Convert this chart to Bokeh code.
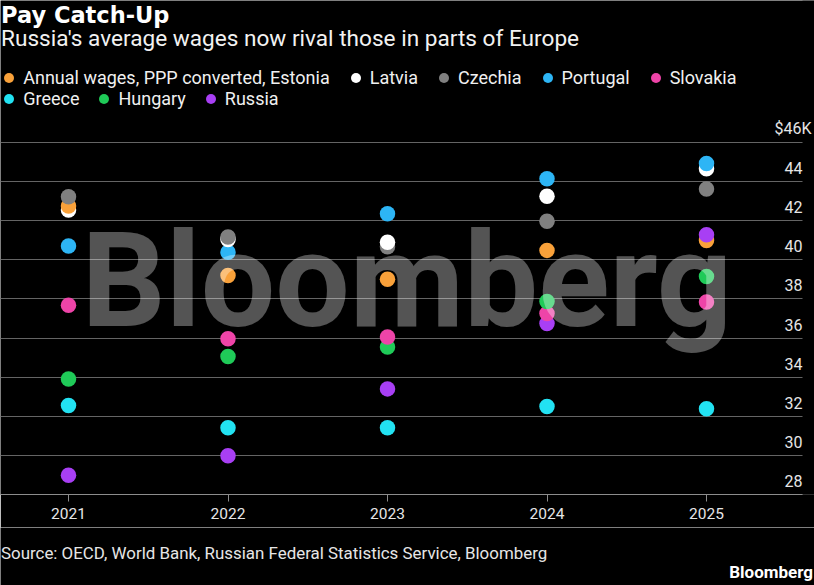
from bokeh.plotting import figure
from bokeh.layouts import column
from bokeh.models import (ColumnDataSource, FixedTicker, Legend, LegendItem, Label, Range1d,
                          BoxAnnotation)
from bokeh.embed import file_html
from bokeh.resources import INLINE
from bokeh.core.properties import value

# ---------------- data ----------------
years = [2021, 2022, 2023, 2024, 2025]
countries = ["Estonia", "Latvia", "Czechia", "Portugal", "Slovakia", "Greece", "Hungary", "Russia"]
legend_labels = ["Annual wages, PPP converted, Estonia", "Latvia", "Czechia", "Portugal",
                 "Slovakia", "Greece", "Hungary", "Russia"]
estonia = [42.75, 39.2, 39.0, 40.48, 40.99]
latvia = [42.55, 41.04, 40.9, 43.25, 44.65]
czechia = [43.22, 41.16, 40.66, 41.97, 43.62]
portugal = [40.7, 40.39, 42.35, 44.14, 44.92]
slovakia = [37.68, 35.96, 36.05, 37.25, 37.84]
greece = [32.55, 31.41, 31.41, 32.5, 32.38]
hungary = [33.9, 35.05, 35.54, 37.87, 39.15]
russia = [28.98, 29.98, 33.4, 36.74, 41.28]
series = [estonia, latvia, czechia, portugal, slovakia, greece, hungary, russia]
colors = ["#f9a13a", "#ffffff", "#808080", "#2db5f5", "#ee44a8", "#22e2f2", "#1fca58", "#a83ff4"]

y_ticks = [28, 30, 32, 34, 36, 38, 40, 42, 44]
y_tick_labels = ["28", "30", "32", "34", "36", "38", "40", "42", "44"]
top_tick = [46]
top_tick_label = ["$46K"]

title_text = "Pay Catch-Up"
subtitle_text = "Russia's average wages now rival those in parts of Europe"
source_text = "Source: OECD, World Bank, Russian Federal Statistics Service, Bloomberg"
brand_text = "Bloomberg"

# ---------------- long-form table, drawn low values first ----------------
rows = []
for name, vals, col in zip(countries, series, colors):
    for yr, v in zip(years, vals):
        rows.append((v, yr, name, col))
rows.sort(key=lambda r: r[0])
src = ColumnDataSource(dict(
    value=[r[0] for r in rows],
    year=[r[1] for r in rows],
    country=[r[2] for r in rows],
    color=[r[3] for r in rows],
))

# ---------------- layout geometry (pixels) ----------------
W = 814
FRAME_H = 494          # frame from the top of the page down to the x axis
AXIS_H = 33            # room for the x axis below the frame
MAIN_H = FRAME_H + AXIS_H
FOOT_H = 585 - MAIN_H
GRID_RIGHT = 802       # grid lines and axis line stop here
PX_PER_YEAR = 159.5
PX_PER_UNIT = 19.56
x_start = 2021 - 68 / PX_PER_YEAR
x_end = x_start + W / PX_PER_YEAR
y_start = 28
y_end = y_start + FRAME_H / PX_PER_UNIT

def dx(px):             # page x pixel -> data x
    return x_start + px / PX_PER_YEAR

def dy(py):             # page y pixel -> data y
    return y_end - py / PX_PER_UNIT

x_grid_end = dx(GRID_RIGHT)

p = figure(width=W, height=MAIN_H, output_backend="svg", toolbar_location=None, title=None,
           x_range=Range1d(x_start, x_end), y_range=Range1d(y_start, y_end),
           y_axis_location=None, min_border_left=0, min_border_right=0,
           min_border_top=0, min_border_bottom=AXIS_H)
p.frame_align = False
p.background_fill_color = "#000000"
p.border_fill_color = "#000000"
p.outline_line_color = None

p.xgrid.visible = False
p.ygrid.ticker = FixedTicker(ticks=y_ticks + top_tick)
p.ygrid.grid_line_color = "#646464"
p.ygrid.grid_line_width = 1
# hide the grid lines to the right of the label column
p.add_layout(BoxAnnotation(left=x_grid_end, fill_color="#000000", fill_alpha=1,
                           line_color=None, level="underlay"))

ax = p.xaxis[0]
ax.ticker = FixedTicker(ticks=years)
ax.bounds = (x_start, x_grid_end)
ax.minor_tick_line_color = None
ax.major_tick_in = 0
ax.major_tick_out = 7
ax.axis_line_color = "#8c8c8c"
ax.major_tick_line_color = "#8c8c8c"
ax.major_label_text_font = "Roboto"
ax.major_label_text_font_size = "15.5px"
ax.major_label_text_color = "#e6e6e6"
ax.major_label_standoff = 6

# value labels sitting above the grid lines, right-aligned at the grid end
lab_style = dict(text_align="right", text_baseline="middle", y_offset=-13.5,
                 text_font=value("Roboto"), text_font_size="16px", text_color="#e6e6e6")
p.text(x=[x_grid_end] * len(y_ticks), y=y_ticks, text=y_tick_labels, **lab_style)
p.text(x=[x_grid_end] * len(top_tick), y=top_tick, text=top_tick_label, x_offset=9,
       **lab_style)

# dots
r = p.scatter(x="year", y="value", source=src, size=15.5, fill_color="color",
              line_color=None)

# legend (two rows)
first_idx = {}
for i, c in enumerate(src.data["country"]):
    first_idx.setdefault(c, i)
items = [LegendItem(label=lab, renderers=[r], index=first_idx[c])
         for lab, c in zip(legend_labels, countries)]

def make_legend(its, loc, spacing):
    lg = Legend(items=its, location=loc, orientation="horizontal", padding=0, margin=0,
                spacing=spacing, glyph_width=25, glyph_height=25, label_standoff=2,
                label_height=20, label_text_font="Roboto", label_text_font_size="18px",
                label_text_color="#f0f0f0", background_fill_alpha=0, border_line_alpha=0)
    p.add_layout(lg)

make_legend(items[:5], (-3.8, FRAME_H - 90.2), 13)
make_legend(items[5:], (-3.8, FRAME_H - 110.8), 12)

# header texts (inside the frame, above the data)
p.add_layout(Label(x=dx(0.5), y=dy(14.5), text=title_text, text_font="DejaVu Sans",
                   text_font_style="bold", text_font_size="22.5px", text_color="#ffffff",
                   text_baseline="middle"))
p.add_layout(Label(x=dx(0.5), y=dy(38), text=subtitle_text, text_font="Roboto",
                   text_font_size="22.6px", text_color="#f2f2f2", text_baseline="middle"))

# watermark on top of everything
p.add_layout(Label(x=dx(81), y=dy(280), text=brand_text, text_font="Roboto",
                   text_font_style="bold", text_font_size="132px", text_color="#ffffff",
                   text_alpha=0.33, text_baseline="middle", level="overlay"))

# ---------------- footer ----------------
f = figure(width=W, height=FOOT_H, output_backend="svg", toolbar_location=None, title=None,
           x_range=Range1d(0, W), y_range=Range1d(0, FOOT_H),
           x_axis_location=None, y_axis_location=None,
           min_border_left=0, min_border_right=0, min_border_top=0, min_border_bottom=0)
f.frame_align = False
f.background_fill_color = "#000000"
f.border_fill_color = "#000000"
f.outline_line_color = None
f.xgrid.visible = False
f.ygrid.visible = False
f.add_layout(Label(x=0.5, y=FOOT_H - (552.5 - MAIN_H), text=source_text, text_font="Roboto",
                   text_font_size="16.9px", text_color="#e6e6e6", text_baseline="middle"))
f.add_layout(Label(x=812.5, y=FOOT_H - (571 - MAIN_H), text=brand_text, text_font="Roboto",
                   text_font_style="bold", text_font_size="17px", text_color="#ffffff",
                   text_align="right", text_baseline="middle"))

page = column(p, f, spacing=0, margin=(0, 0, 0, 0))
open("out.html", "w").write(file_html(page, INLINE))
